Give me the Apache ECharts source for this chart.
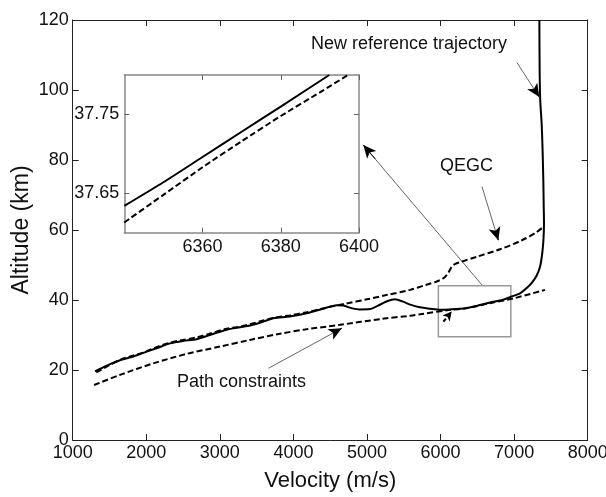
<!DOCTYPE html>
<html><head><meta charset="utf-8">
<script src="https://cdn.jsdelivr.net/npm/echarts@6/dist/echarts.min.js"></script>
<style>html,body{margin:0;padding:0;background:#fff}#c{width:606px;height:497px}</style>
</head><body><div id="c"></div>
<script>
// ---- data ----
const refV = [1303,1400,1500,1643,1800,1960,2150,2322,2500,2685,2850,3093,3274,3410,3600,3727,3950,4181,4400,4589,4680,4800,4900,5041,5150,5280,5381,5480,5600,5721,5859,6000,6131,6340,6491,6717,6853,6953,7080,7171,7250,7307,7352,7380,7398,7406,7402,7397,7388,7375,7355,7347,7343];
const refH = [19.6,20.6,21.6,22.8,23.7,24.9,26.3,27.6,28.3,28.8,29.9,31.5,32.2,32.7,33.9,34.8,35.3,36.2,37.5,38.5,38.4,37.6,37.3,37.4,38.4,39.7,40.2,39.6,38.6,37.9,37.5,37.2,37.3,37.63,38.3,39.5,40.1,40.9,41.9,43.4,45.2,47.0,49.5,53,57,62,67,74,82,90,97,105,120];
const qegcV = [1320,1500,1643,1800,1960,2150,2322,2500,2685,2850,3093,3274,3410,3600,3727,3950,4181,4400,4600,4700,5000,5263,5587,5800,5950,6038,6100,6152,6200,6265,6500,6809,7100,7300,7397];
const qegcH = [19.3,21.4,22.9,24.0,25.0,26.6,27.8,28.6,29.3,30.3,31.8,32.4,33.1,34.2,34.9,35.6,36.5,37.6,38.5,38.9,40.2,41.4,42.9,44.3,45.3,46.2,47.6,49.5,50.3,50.8,52.4,54.5,57.0,59.3,60.9];
const pathV = [1290,1643,2096,2550,3002,3410,3800,4200,4633,5200,5587,5721,6131,6340,6717,7000,7420];
const pathH = [15.7,18.6,21.9,24.6,26.7,28.6,30.3,31.7,32.9,34.6,35.5,35.9,37.2,37.61,39.3,40.5,42.9];
const insetRefV = [6340,6350,6360,6370,6380,6392.4];
const insetRefH = [37.634,37.664,37.696,37.728,37.760,37.800];
const insetPathV = [6340,6350,6360,6370,6380,6390,6397.2];
const insetPathH = [37.613,37.648,37.683,37.716,37.748,37.778,37.800];
const mainXTicks = [1000,2000,3000,4000,5000,6000,7000,8000];
const mainYTicks = [0,20,40,60,80,100,120];
const insetXTicks = [6360,6380,6400];
const insetYTicks = [37.65,37.75];
// annotation arrows (data coords): [fromV, fromH, toV, toH]
const arrows = [
  [7039,107.8,7342,98.0],
  [6563,72.4,6785,57.1],
  [6563,44.3,4950,84.3],
  [3661,20.5,4656,31.9]
];
const zoomBox = [5970,44.1,6955,29.5];
const smallDash = [6038,33.8,6152,36.7];

// ---- chart ----
const FONT = '"Liberation Sans", Arial, sans-serif';
const TXT = '#111';
const zip = (a,b) => a.map((v,i) => [v,b[i]]);
const chart = echarts.init(document.getElementById('c'), null, {renderer:'canvas'});

function mainAxis(pos, show, extra) {
  return Object.assign({
    type:'value', gridIndex:0, position:pos,
    axisLine:{show:true,onZero:false,lineStyle:{color:'#222',width:1}},
    axisTick:{show:true,inside:true,length:6,lineStyle:{color:'#222',width:1}},
    axisLabel:{show:show,color:TXT,fontSize:18,fontFamily:FONT,margin:4,formatter:v=>String(v)},
    splitLine:{show:false}
  }, extra);
}
function insetAxis(pos, show, vals, fmt, extra) {
  return Object.assign({
    type:'value', gridIndex:1, position:pos,
    axisLine:{show:true,onZero:false,lineStyle:{color:'#888',width:1.5}},
    axisTick:{show:true,inside:true,length:5,customValues:vals,lineStyle:{color:'#666',width:1}},
    axisLabel:{show:show,customValues:vals,color:TXT,fontSize:18,fontFamily:FONT,margin:5,formatter:fmt},
    splitLine:{show:false}
  }, extra);
}
const fmtX = v => String(Math.round(v));
const fmtY = v => Number(v).toFixed(2);

const option = {
  animation:false,
  backgroundColor:'#fff',
  grid:[
    {left:72.7,right:18.3,top:20,bottom:57,outerBoundsMode:'none',containLabel:false},
    {left:124.3,top:75,width:234.7,height:157.7,show:true,backgroundColor:'#fff',borderWidth:0,outerBoundsMode:'none',containLabel:false}
  ],
  xAxis:[
    mainAxis('bottom', true, {min:1000,max:8000,interval:1000,
      name:'Velocity (m/s)',nameLocation:'middle',nameGap:30,nameMoveOverlap:false,
      nameTextStyle:{fontSize:22,color:TXT,fontFamily:FONT}}),
    mainAxis('top', false, {min:1000,max:8000,interval:1000}),
    insetAxis('bottom', true, insetXTicks, fmtX, {min:6340,max:6400}),
    insetAxis('top', false, insetXTicks, fmtX, {min:6340,max:6400})
  ],
  yAxis:[
    mainAxis('left', true, {min:0,max:120,interval:20,
      name:'Altitude (km)',nameLocation:'middle',nameGap:40,nameRotate:90,nameMoveOverlap:false,
      nameTextStyle:{fontSize:23,color:TXT,fontFamily:FONT}}),
    mainAxis('right', false, {min:0,max:120,interval:20}),
    insetAxis('left', true, insetYTicks, fmtY, {min:37.6,max:37.8}),
    insetAxis('right', false, insetYTicks, fmtY, {min:37.6,max:37.8})
  ],
  series:[
    {type:'line',name:'Path constraints',xAxisIndex:0,yAxisIndex:0,data:zip(pathV,pathH),showSymbol:false,smooth:0.3,
      lineStyle:{color:'#000',width:2,type:[6,3]},z:3},
    {type:'line',name:'Reference',xAxisIndex:0,yAxisIndex:0,data:zip(refV,refH),showSymbol:false,smooth:0.25,
      lineStyle:{color:'#000',width:2},z:4},
    {type:'line',name:'QEGC',xAxisIndex:0,yAxisIndex:0,data:zip(qegcV,qegcH),showSymbol:false,smooth:0.3,
      lineStyle:{color:'#000',width:2,type:[6,3]},z:5},
    {type:'line',name:'inset ref',xAxisIndex:2,yAxisIndex:2,data:zip(insetRefV,insetRefH),showSymbol:false,smooth:0.2,
      lineStyle:{color:'#000',width:2},z:6},
    {type:'line',name:'inset path',xAxisIndex:2,yAxisIndex:2,data:zip(insetPathV,insetPathH),showSymbol:false,smooth:0.2,
      lineStyle:{color:'#000',width:2,type:[6,3]},z:6},
    // annotation shafts
    {type:'line',xAxisIndex:0,yAxisIndex:0,data:[],z:7,
      markLine:{silent:true,symbol:['none','none'],label:{show:false},animation:false,
        lineStyle:{color:'#666',width:1,type:'solid'},
        data:arrows.map(a=>[{coord:[a[0],a[1]]},{coord:[a[2],a[3]]}])},
      markArea:{silent:true,label:{show:false},itemStyle:{color:'rgba(0,0,0,0)',borderColor:'#999',borderWidth:1.5},
        data:[[{coord:[zoomBox[0],zoomBox[1]]},{coord:[zoomBox[2],zoomBox[3]]}]]}},
    // arrowheads (short black tip segments)
    {type:'line',xAxisIndex:0,yAxisIndex:0,data:[],z:8,
      markLine:{silent:true,symbol:['none','arrow'],symbolSize:[9,13],label:{show:false},animation:false,
        lineStyle:{color:'#000',width:1,type:'solid'},
        data:arrows.map(a=>[{coord:[a[0]+(a[2]-a[0])*0.9,a[1]+(a[3]-a[1])*0.9]},{coord:[a[2],a[3]]}])}},
    // small dashed arrow near the zoom box
    {type:'line',xAxisIndex:0,yAxisIndex:0,data:[],z:8,
      markLine:{silent:true,symbol:['none','arrow'],symbolSize:[7,9],label:{show:false},animation:false,
        lineStyle:{color:'#000',width:2,type:[4,3]},
        data:[[{coord:[smallDash[0],smallDash[1]]},{coord:[smallDash[2],smallDash[3]]}]]}}
  ],
  graphic:[
    {type:'text',x:311,y:44,z:20,style:{text:'New reference trajectory',font:'18px '+FONT,fill:TXT,textAlign:'left',textVerticalAlign:'middle'}},
    {type:'text',x:440,y:166,z:20,style:{text:'QEGC',font:'18px '+FONT,fill:TXT,textAlign:'left',textVerticalAlign:'middle'}},
    {type:'text',x:177,y:382,z:20,style:{text:'Path constraints',font:'18px '+FONT,fill:TXT,textAlign:'left',textVerticalAlign:'middle'}}
  ]
};
chart.setOption(option);
</script>
</body></html>
